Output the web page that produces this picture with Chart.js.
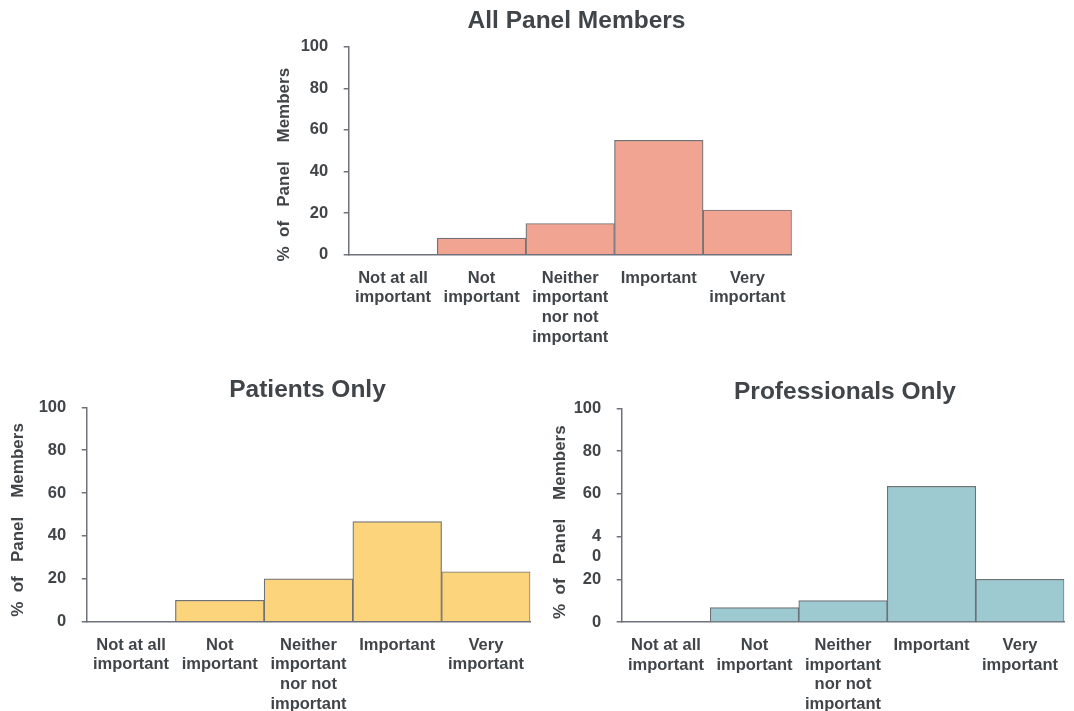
<!DOCTYPE html>
<html>
<head>
<meta charset="utf-8">
<title>Importance ratings by panel group</title>
<script src="https://cdn.jsdelivr.net/npm/chart.js@4/dist/chart.umd.min.js"></script>
<style>
  html, body { margin: 0; padding: 0; background: #ffffff; overflow: hidden; }
  body { width: 1074px; height: 711px; position: relative; }
  .panel { position: absolute; }
  .panel canvas { display: block; }
</style>
</head>
<body>
<div class="panel" id="boxAll" style="left:270px; top:0px; width:613px; height:360px;"><canvas id="chartAll"></canvas></div>
<div class="panel" id="boxPatients" style="left:4px; top:375px; width:607px; height:336px;"><canvas id="chartPatients"></canvas></div>
<div class="panel" id="boxProfessionals" style="left:546px; top:375px; width:598px; height:336px;"><canvas id="chartProfessionals"></canvas></div>
<script>
// Response categories (multi-line axis labels)
const categories = [
  ['Not at all', 'important'],
  ['Not', 'important'],
  ['Neither', 'important', 'nor not', 'important'],
  ['Important'],
  ['Very', 'important']
];

// Percentage of panel members choosing each rating
const allPanelMembers = [0, 8, 15, 55, 21.5];
const patientsOnly = [0, 10, 20, 46.7, 23.3];
const professionalsOnly = [0, 6.7, 10, 63.5, 20];

// Y axis ticks and their printed labels
const yTickValues = [0, 20, 40, 60, 80, 100];
const yTickLabels = ['0', '20', '40', '60', '80', '100'];
const yTickLabelsProfessionals = ['0', '20', ['', '4', '0'], '60', '80', '100'];

const yAxisTitle = '%  of   Panel    Members';

const textColor = '#404549';
const axisColor = '#6f727c';
const barEdge = '#6e7277';
const fontFamily = '"Liberation Sans", Arial, Helvetica, sans-serif';

Chart.defaults.font.family = fontFamily;
Chart.defaults.color = textColor;

// Nudges the vertical axis title along the axis
const axisTitleShift = {
  id: 'axisTitleShift',
  beforeDraw(chart, args, opts) {
    const s = chart.scales.y;
    if (!s || s.__titleShifted) return;
    const original = s.drawTitle.bind(s);
    s.drawTitle = function () {
      const c = this.ctx;
      c.save();
      c.translate(0, opts.dy || 0);
      original();
      c.restore();
    };
    s.__titleShifted = true;
  }
};

function buildChart(canvasId, cfg) {
  const labelFont = { size: 16.5, weight: 'bold', family: fontFamily };
  return new Chart(document.getElementById(canvasId), {
    type: 'bar',
    data: {
      labels: categories,
      datasets: [{
        data: cfg.values,
        backgroundColor: cfg.fill,
        borderColor: barEdge,
        borderWidth: 1.2,
        barPercentage: 1,
        categoryPercentage: 1
      }]
    },
    options: {
      responsive: true,
      maintainAspectRatio: false,
      animation: false,
      layout: { padding: 0 },
      plugins: {
        legend: { display: false },
        tooltip: { enabled: false },
        title: {
          display: true,
          text: cfg.title,
          color: textColor,
          font: { size: 24.5, weight: 'bold', family: fontFamily },
          padding: { top: cfg.titleTop, bottom: cfg.titleBottom }
        },
        axisTitleShift: { dy: cfg.yTitleShift }
      },
      scales: {
        x: {
          grid: { display: false },
          border: { display: true, color: axisColor, width: 1.5 },
          ticks: {
            color: textColor,
            font: labelFont,
            padding: 5.4,
            maxRotation: 0,
            minRotation: 0,
            autoSkip: false
          },
          afterFit(scale) { scale.height = cfg.xHeight; }
        },
        y: {
          min: 0,
          max: 100,
          ticks: {
            stepSize: 20,
            autoSkip: false,
            color: textColor,
            font: labelFont,
            padding: 15.5,
            callback: (value) => cfg.tickLabels[yTickValues.indexOf(value)]
          },
          grid: {
            drawOnChartArea: false,
            drawTicks: true,
            tickLength: 5,
            color: axisColor,
            lineWidth: 1.5
          },
          border: { display: true, color: axisColor, width: 1.5 },
          title: {
            display: true,
            text: yAxisTitle,
            color: textColor,
            font: { size: 17, weight: 'bold', family: fontFamily }
          },
          afterFit(scale) { scale.width = cfg.yWidth; }
        },
        // empty right-hand margin so the chart title stays centred on the canvas
        yMargin: {
          type: 'linear',
          position: 'right',
          display: true,
          grid: { display: false },
          border: { display: false },
          ticks: { display: false },
          afterFit(scale) { scale.width = cfg.padRight; }
        }
      }
    },
    plugins: [axisTitleShift]
  });
}

buildChart('chartAll', {
  title: 'All Panel Members',
  values: allPanelMembers,
  fill: '#f2a492',
  tickLabels: yTickLabels,
  yWidth: 78.7,
  padRight: 91.3,
  titleTop: 6.3,
  titleBottom: 11,
  xHeight: 105.3,
  yTitleShift: 14
});

buildChart('chartPatients', {
  title: 'Patients Only',
  values: patientsOnly,
  fill: '#fcd47b',
  tickLabels: yTickLabels,
  yWidth: 82.7,
  padRight: 80.7,
  titleTop: 1,
  titleBottom: 1.9,
  xHeight: 89.3,
  yTitleShift: 5.5
});

buildChart('chartProfessionals', {
  title: 'Professionals Only',
  values: professionalsOnly,
  fill: '#9dcad1',
  tickLabels: yTickLabelsProfessionals,
  yWidth: 75.7,
  padRight: 79.7,
  titleTop: 2.3,
  titleBottom: 1.6,
  xHeight: 89,
  yTitleShift: 7
});
</script>
</body>
</html>
